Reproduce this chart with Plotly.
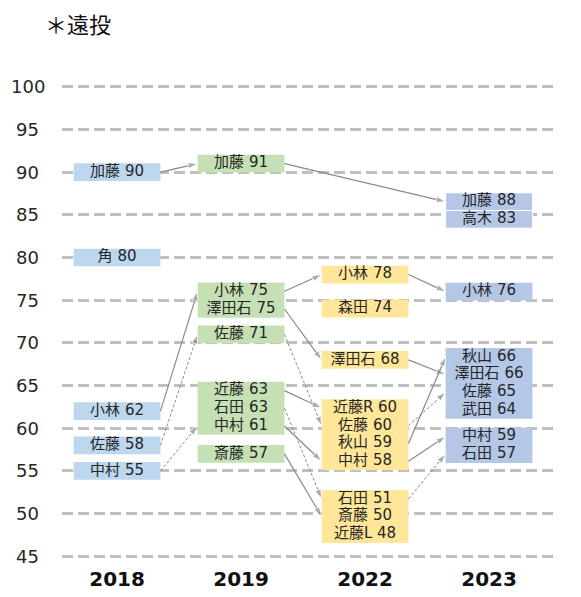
import plotly.graph_objects as go

# columns of the chart
years = ["2018", "2019", "2022", "2023"]
y_ticks = [45, 50, 55, 60, 65, 70, 75, 80, 85, 90, 95, 100]

names_2018 = ["加藤", "角", "小林", "佐藤", "中村"]
scores_2018 = [90, 80, 62, 58, 55]
groups_2018 = [0, 1, 2, 3, 4]

names_2019 = ["加藤", "小林", "澤田石", "佐藤", "近藤", "石田", "中村", "斎藤"]
scores_2019 = [91, 75, 75, 71, 63, 63, 61, 57]
groups_2019 = [0, 1, 1, 2, 3, 3, 3, 4]

names_2022 = ["小林", "森田", "澤田石", "近藤R", "佐藤", "秋山", "中村", "石田", "斎藤", "近藤L"]
scores_2022 = [78, 74, 68, 60, 60, 59, 58, 51, 50, 48]
groups_2022 = [0, 1, 2, 3, 3, 3, 3, 4, 4, 4]

names_2023 = ["加藤", "高木", "小林", "秋山", "澤田石", "佐藤", "武田", "中村", "石田"]
scores_2023 = [88, 83, 76, 66, 66, 65, 64, 59, 57]
groups_2023 = [0, 0, 1, 2, 2, 2, 2, 3, 3]

# (from column, name, to column, name, line style)
links = [
    (0, "加藤", 1, "加藤", "solid"),
    (0, "小林", 1, "小林", "solid"),
    (0, "佐藤", 1, "佐藤", "dash"),
    (0, "中村", 1, "中村", "dash"),
    (1, "加藤", 3, "加藤", "solid"),
    (1, "小林", 2, "小林", "solid"),
    (1, "澤田石", 2, "澤田石", "solid"),
    (1, "佐藤", 2, "佐藤", "dash"),
    (1, "近藤", 2, "近藤R", "solid"),
    (1, "石田", 2, "石田", "dash"),
    (1, "中村", 2, "中村", "solid"),
    (1, "斎藤", 2, "斎藤", "solid"),
    (2, "小林", 3, "小林", "solid"),
    (2, "澤田石", 3, "澤田石", "solid"),
    (2, "秋山", 3, "秋山", "solid"),
    (2, "佐藤", 3, "佐藤", "dash"),
    (2, "中村", 3, "中村", "solid"),
    (2, "石田", 3, "石田", "dash"),
]

columns = [
    (names_2018, scores_2018, groups_2018),
    (names_2019, scores_2019, groups_2019),
    (names_2022, scores_2022, groups_2022),
    (names_2023, scores_2023, groups_2023),
]

box_colors = ["#BDD7EE", "#C5E0B4", "#FFE699", "#B4C7E7"]
ROW_H = 2.07      # one text row, in score units
HALF_W = 0.35     # half box width, in column units
ARROW = "#8A8A8A"
FONT = "DejaVu Sans, Noto Sans CJK JP, sans-serif"

fig = go.Figure()
shapes = []
row_pos = {}
text_traces = []

for ci, (names, scores, groups) in enumerate(columns):
    for g in sorted(set(groups)):
        idx = [i for i, gg in enumerate(groups) if gg == g]
        centre = sum(scores[i] for i in idx) / len(idx)
        top = centre + len(idx) * ROW_H / 2
        split = ci == 3 and g == 0
        if split:
            for k in range(len(idx)):
                shapes.append(dict(type="rect", xref="x", yref="y",
                                   x0=ci - HALF_W, x1=ci + HALF_W,
                                   y0=top - (k + 1) * ROW_H, y1=top - k * ROW_H,
                                   fillcolor=box_colors[ci],
                                   line=dict(color="white", width=1), layer="between"))
        else:
            shapes.append(dict(type="rect", xref="x", yref="y",
                               x0=ci - HALF_W, x1=ci + HALF_W,
                               y0=top - len(idx) * ROW_H, y1=top,
                               fillcolor=box_colors[ci], line_width=0, layer="between"))
        for k, i in enumerate(idx):
            row_pos[(ci, names[i])] = top - (k + 0.5) * ROW_H
    text_traces.append(go.Scatter(
        x=[ci] * len(names),
        y=[row_pos[(ci, n)] for n in names],
        mode="text",
        text=[f"{n} {s}" for n, s in zip(names, scores)],
        textfont=dict(family=FONT, size=15, color="#262626"),
        hoverinfo="skip",
    ))

for c0, n0, c1, n1, style in links:
    x0, y0 = c0 + HALF_W, row_pos[(c0, n0)]
    x1, y1 = c1 - HALF_W, row_pos[(c1, n1)]
    fig.add_trace(go.Scatter(
        x=[x0, x1], y=[y0, y1],
        mode="lines+markers",
        line=dict(color=ARROW, width=1.2 if style == "solid" else 1,
                  dash="solid" if style == "solid" else "3px,2px"),
        marker=dict(symbol=["circle", "arrow"], size=[0, 10], color=ARROW,
                    angleref="previous"),
        hoverinfo="skip",
    ))

for t in text_traces:
    fig.add_trace(t)

# y tick labels, centred in the left margin like the original
for v in y_ticks:
    fig.add_annotation(text=str(v), xref="paper", yref="y", x=-0.069, y=v,
                       xanchor="center", yanchor="middle", showarrow=False,
                       font=dict(family=FONT, size=18, color="#262626"))

fig.add_annotation(text="＊遠投", xref="paper", yref="paper", x=-0.038, y=1.131,
                   xanchor="left", yanchor="middle", showarrow=False,
                   font=dict(family="Noto Sans CJK JP", size=22, color="#111111"))

# page body has an 8px margin, so the figure is 8px smaller than the window
fig.update_layout(
    width=573, height=589,
    margin=dict(l=54, r=26, t=77, b=39),
    paper_bgcolor="white", plot_bgcolor="white",
    showlegend=False,
    shapes=shapes,
    xaxis=dict(range=[-0.444, 3.532], tickvals=[0, 1, 2, 3], ticktext=years,
               showgrid=False, zeroline=False, showline=False, automargin=False,
               tickfont=dict(family=FONT, size=20, color="#111111", weight="bold"),
               ticklabelstandoff=7),
    yaxis=dict(range=[44.8, 100.2], tickvals=y_ticks, showticklabels=False,
               automargin=False,
               showgrid=True, gridcolor="#BFBFBF", gridwidth=3, griddash="11px,5px",
               zeroline=False, showline=False),
)

fig.write_html("out.html")
